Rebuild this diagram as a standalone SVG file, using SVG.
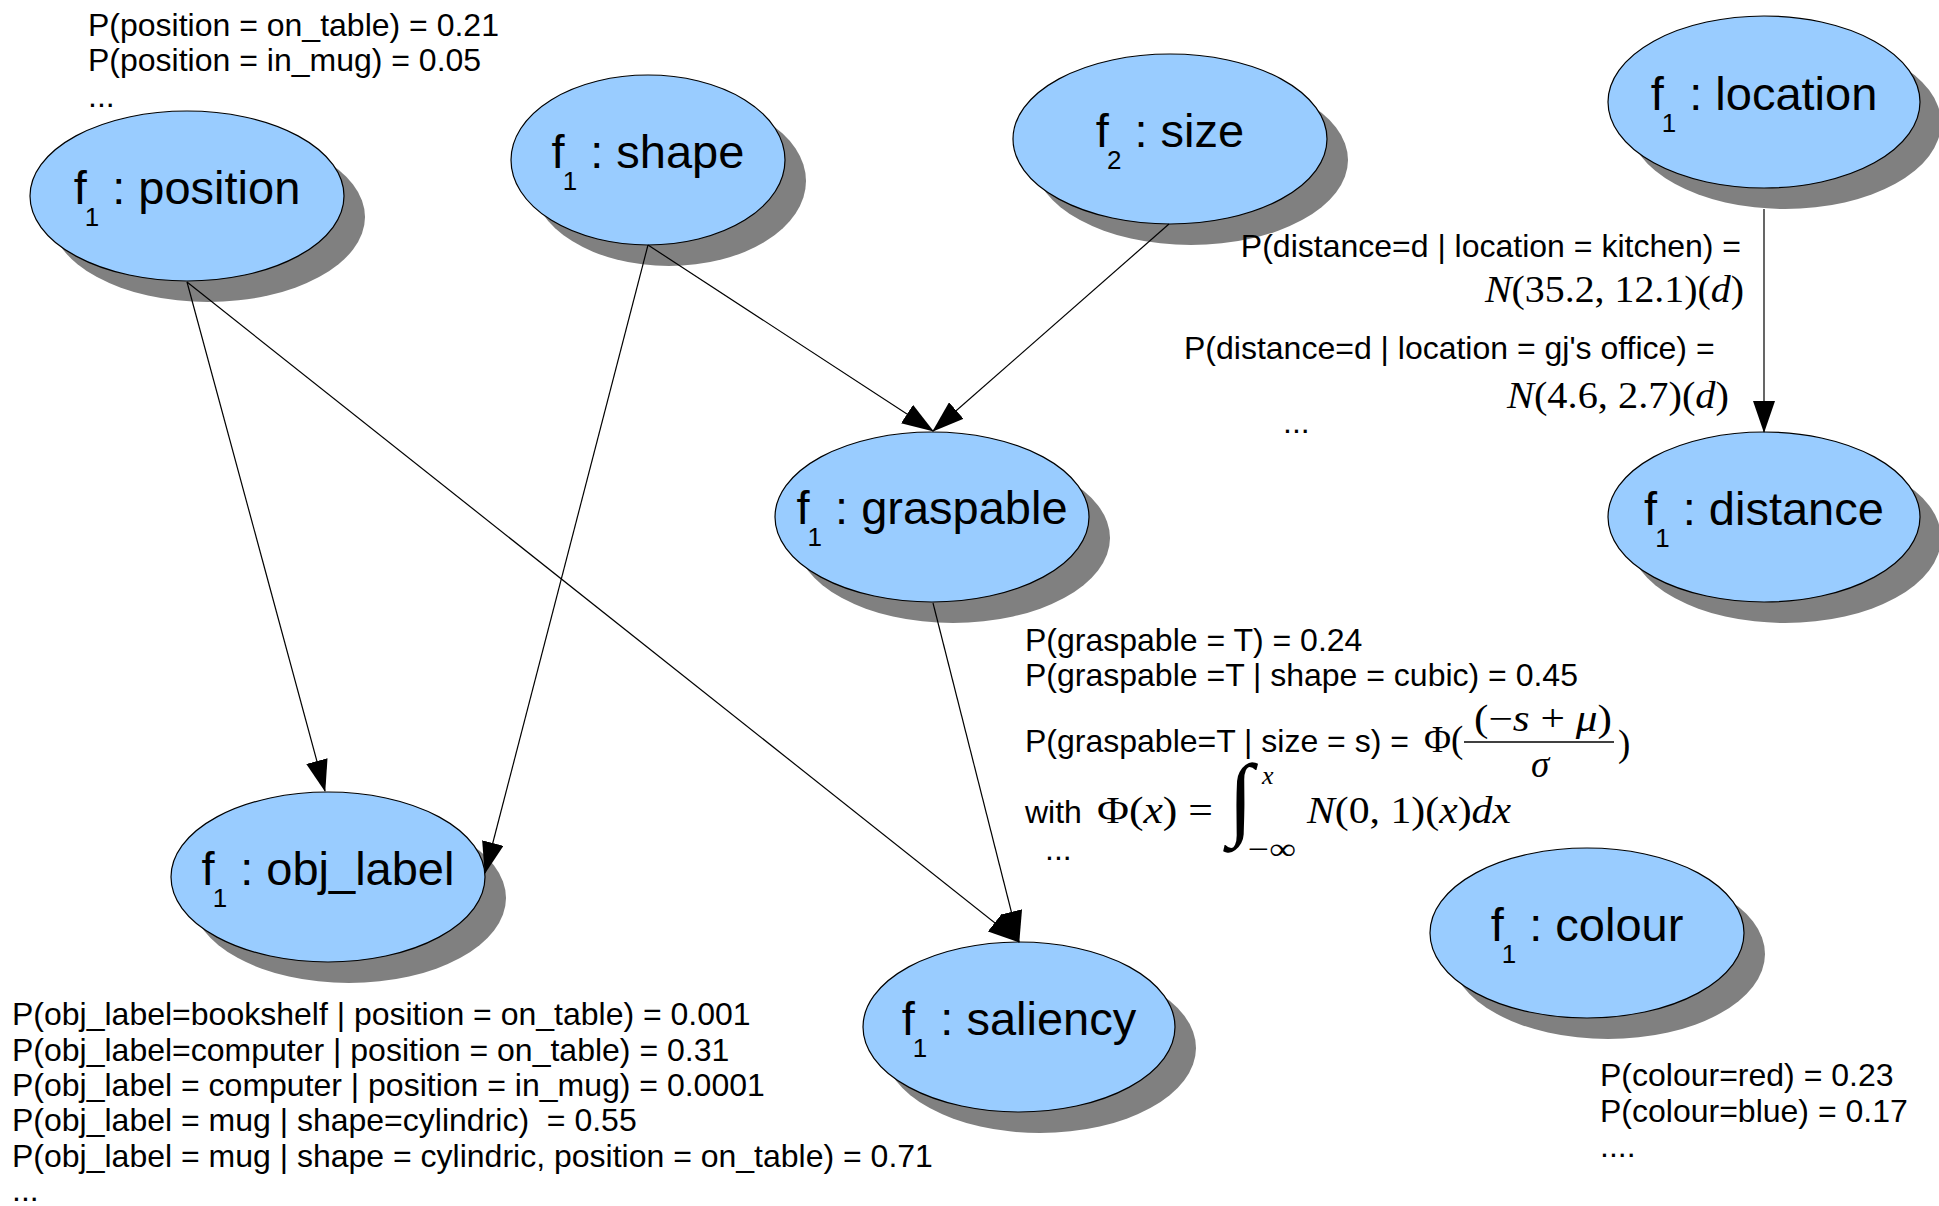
<svg xmlns="http://www.w3.org/2000/svg" width="1939" height="1206" viewBox="0 0 1939 1206">
<defs>
<style>
.shadow{fill:#808080;stroke:none}
.body{fill:#99ccff;stroke:#000;stroke-width:1.2}
.lbl{font-family:"Liberation Sans",Arial,sans-serif;font-size:47px;fill:#000;text-anchor:middle}
.sub{font-size:26px}
.ann{font-family:"Liberation Sans",Arial,sans-serif;font-size:32px;fill:#000;white-space:pre}
.math{font-family:"Liberation Serif","Times New Roman",serif;font-size:37px;fill:#000;white-space:pre}
.it{font-style:italic}
.edge{stroke:#000;stroke-width:1.2;fill:none;marker-end:url(#arr)}
</style>
<marker id="arr" markerUnits="userSpaceOnUse" markerWidth="32" markerHeight="22" refX="31" refY="11" orient="auto">
<path d="M0,0 L32,11 L0,22 z" fill="#000"/>
</marker>
</defs>
<rect width="1939" height="1206" fill="#fff"/>

<g id="node-position">
<ellipse class="shadow" cx="208" cy="217" rx="157" ry="85"/>
<ellipse class="body" cx="187" cy="196" rx="157" ry="85"/>
<text class="lbl" x="187" y="204">f<tspan class="sub" dy="22" dx="-2">1</tspan><tspan dy="-22"> : position</tspan></text>
</g>
<g id="node-shape">
<ellipse class="shadow" cx="669" cy="181" rx="137" ry="85"/>
<ellipse class="body" cx="648" cy="160" rx="137" ry="85"/>
<text class="lbl" x="648" y="168">f<tspan class="sub" dy="22" dx="-2">1</tspan><tspan dy="-22"> : shape</tspan></text>
</g>
<g id="node-size">
<ellipse class="shadow" cx="1191" cy="160" rx="157" ry="85"/>
<ellipse class="body" cx="1170" cy="139" rx="157" ry="85"/>
<text class="lbl" x="1170" y="147">f<tspan class="sub" dy="22" dx="-2">2</tspan><tspan dy="-22"> : size</tspan></text>
</g>
<g id="node-location">
<ellipse class="shadow" cx="1785" cy="123" rx="156" ry="86"/>
<ellipse class="body" cx="1764" cy="102" rx="156" ry="86"/>
<text class="lbl" x="1764" y="110">f<tspan class="sub" dy="22" dx="-2">1</tspan><tspan dy="-22"> : location</tspan></text>
</g>
<g id="node-distance">
<ellipse class="shadow" cx="1785" cy="538" rx="156" ry="85"/>
<ellipse class="body" cx="1764" cy="517" rx="156" ry="85"/>
<text class="lbl" x="1764" y="525">f<tspan class="sub" dy="22" dx="-2">1</tspan><tspan dy="-22"> : distance</tspan></text>
</g>
<g id="node-graspable">
<ellipse class="shadow" cx="953" cy="538" rx="157" ry="85"/>
<ellipse class="body" cx="932" cy="517" rx="157" ry="85"/>
<text class="lbl" x="932" y="524">f<tspan class="sub" dy="22" dx="-2">1</tspan><tspan dy="-22"> : graspable</tspan></text>
</g>
<g id="node-obj_label">
<ellipse class="shadow" cx="349" cy="898" rx="157" ry="85"/>
<ellipse class="body" cx="328" cy="877" rx="157" ry="85"/>
<text class="lbl" x="328" y="885">f<tspan class="sub" dy="22" dx="-2">1</tspan><tspan dy="-22"> : obj_label</tspan></text>
</g>
<g id="node-saliency">
<ellipse class="shadow" cx="1040" cy="1048" rx="156" ry="85"/>
<ellipse class="body" cx="1019" cy="1027" rx="156" ry="85"/>
<text class="lbl" x="1019" y="1035">f<tspan class="sub" dy="22" dx="-2">1</tspan><tspan dy="-22"> : saliency</tspan></text>
</g>
<g id="node-colour">
<ellipse class="shadow" cx="1608" cy="954" rx="157" ry="85"/>
<ellipse class="body" cx="1587" cy="933" rx="157" ry="85"/>
<text class="lbl" x="1587" y="941">f<tspan class="sub" dy="22" dx="-2">1</tspan><tspan dy="-22"> : colour</tspan></text>
</g>

<g id="connectors">
<line class="edge" x1="187" y1="282" x2="325" y2="791"/>
<line class="edge" x1="187" y1="282" x2="1019" y2="942"/>
<line class="edge" x1="648" y1="245" x2="485" y2="873"/>
<line class="edge" x1="648" y1="245" x2="933" y2="431"/>
<line class="edge" x1="1169" y1="224" x2="933" y2="431"/>
<line class="edge" x1="933" y1="603" x2="1019" y2="942"/>
<line class="edge" x1="1764" y1="209" x2="1764" y2="432"/>
</g>

<g id="notes">
<text class="ann" x="88" y="36">P(position = on_table) = 0.21</text>
<text class="ann" x="88" y="71">P(position = in_mug) = 0.05</text>
<text class="ann" x="88" y="107">...</text>

<text class="ann" x="1741" y="257" text-anchor="end">P(distance=d | location = kitchen) =</text>
<text class="math" x="1485" y="302" textLength="259" lengthAdjust="spacingAndGlyphs"><tspan class="it">N</tspan>(35.2, 12.1)(<tspan class="it">d</tspan>)</text>
<text class="ann" x="1184" y="359">P(distance=d | location = gj's office) =</text>
<text class="math" x="1507" y="408" textLength="222" lengthAdjust="spacingAndGlyphs"><tspan class="it">N</tspan>(4.6, 2.7)(<tspan class="it">d</tspan>)</text>
<text class="ann" x="1283" y="433">...</text>

<text class="ann" x="1025" y="651">P(graspable = T) = 0.24</text>
<text class="ann" x="1025" y="686">P(graspable =T | shape = cubic) = 0.45</text>
<text class="ann" x="1025" y="752">P(graspable=T | size = s) = </text>
<text class="math" x="1424" y="752">Φ(</text>
<text class="math" x="1474" y="731" textLength="138" lengthAdjust="spacingAndGlyphs">(−<tspan class="it">s</tspan> + <tspan class="it">μ</tspan>)</text>
<line x1="1464" y1="742" x2="1614" y2="742" stroke="#000" stroke-width="1.5"/>
<text class="math it" x="1540" y="777" text-anchor="middle">σ</text>
<text class="math" x="1618" y="756">)</text>
<text class="ann" x="1025" y="823">with</text>
<text class="math" x="1097" y="823" textLength="116" lengthAdjust="spacingAndGlyphs">Φ(<tspan class="it">x</tspan>) =</text>
<text class="math" x="1228" y="828" style="font-size:92px">∫</text>
<text class="math it" x="1262" y="784" style="font-size:26px">x</text>
<text class="math" x="1248" y="859" style="font-size:30px" textLength="48" lengthAdjust="spacingAndGlyphs">−∞</text>
<text class="math" x="1307" y="823" textLength="204" lengthAdjust="spacingAndGlyphs"><tspan class="it">N</tspan>(0, 1)(<tspan class="it">x</tspan>)<tspan class="it">dx</tspan></text>
<text class="ann" x="1045" y="860">...</text>

<text class="ann" x="12" y="1025">P(obj_label=bookshelf | position = on_table) = 0.001</text>
<text class="ann" x="12" y="1061">P(obj_label=computer | position = on_table) = 0.31</text>
<text class="ann" x="12" y="1096">P(obj_label = computer | position = in_mug) = 0.0001</text>
<text class="ann" x="12" y="1131">P(obj_label = mug | shape=cylindric)  = 0.55</text>
<text class="ann" x="12" y="1167">P(obj_label = mug | shape = cylindric, position = on_table) = 0.71</text>
<text class="ann" x="12" y="1201">...</text>

<text class="ann" x="1600" y="1086">P(colour=red) = 0.23</text>
<text class="ann" x="1600" y="1122">P(colour=blue) = 0.17</text>
<text class="ann" x="1600" y="1157">....</text>
</g>
</svg>
